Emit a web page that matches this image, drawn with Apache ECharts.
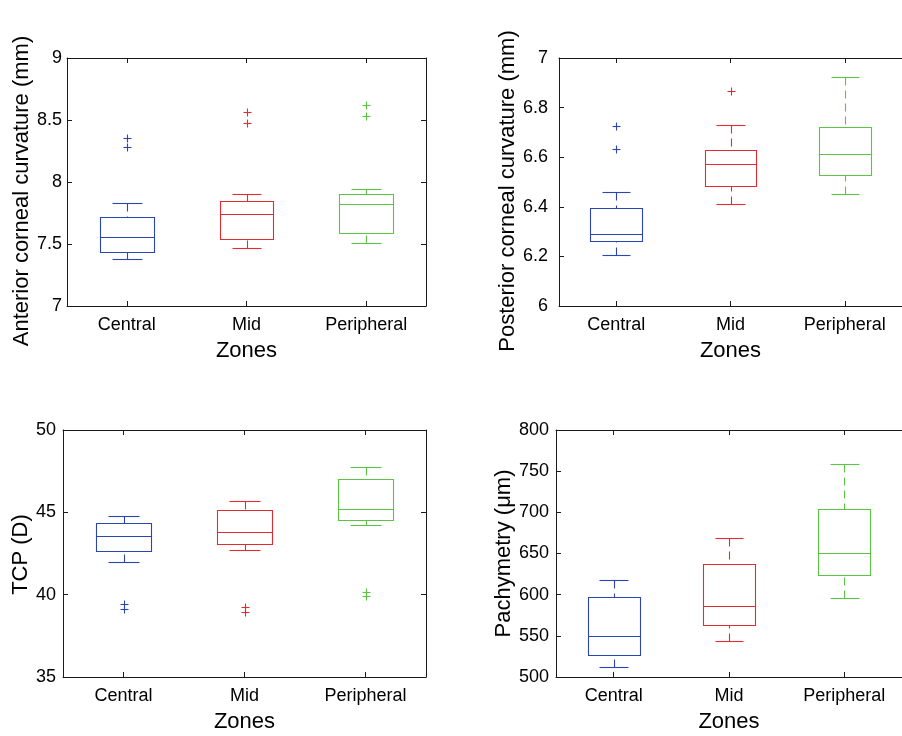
<!DOCTYPE html>
<html>
<head>
<meta charset="utf-8">
<script src="https://cdn.jsdelivr.net/npm/echarts@6/dist/echarts.min.js"></script>
<style>
html,body{margin:0;padding:0;background:#fff;}
#chart{width:902px;height:736px;}
</style>
</head>
<body>
<div id="chart"></div>
<script>
// ---- data ----
const zones = ['Central', 'Mid', 'Peripheral'];

// box stats: [lower whisker, Q1, median, Q3, upper whisker]
const anteriorBoxes = [
  [7.38, 7.435, 7.556, 7.715, 7.834],
  [7.468, 7.538, 7.745, 7.844, 7.901],
  [7.508, 7.586, 7.825, 7.903, 7.941]
];
const anteriorOutliers = [[0, 8.355], [0, 8.282], [1, 8.565], [1, 8.479], [2, 8.619], [2, 8.532]];

const posteriorBoxes = [
  [6.207, 6.264, 6.292, 6.395, 6.460],
  [6.410, 6.484, 6.574, 6.628, 6.731],
  [6.450, 6.530, 6.613, 6.721, 6.923]
];
const posteriorOutliers = [[0, 6.725], [0, 6.633], [1, 6.866]];

const tcpBoxes = [
  [41.96, 42.67, 43.58, 44.38, 44.75],
  [42.70, 43.05, 43.82, 45.13, 45.67],
  [44.22, 44.55, 45.19, 47.03, 47.76]
];
const tcpOutliers = [[0, 39.45], [0, 39.15], [1, 39.25], [1, 38.93], [2, 40.16], [2, 39.94]];

const pachyBoxes = [
  [511.6, 526.6, 549.2, 597.3, 618.3],
  [543.5, 563.0, 586.0, 637.8, 669.0],
  [596.1, 623.6, 651.1, 704.5, 758.3]
];
const pachyOutliers = [];

const anteriorTicks = {min: 7, max: 9, interval: 0.5};
const posteriorTicks = {min: 6, max: 7, interval: 0.2};
const tcpTicks = {min: 35, max: 50, interval: 5};
const pachyTicks = {min: 500, max: 800, interval: 50};

const yTitles = ['Anterior corneal curvature (mm)', 'Posterior corneal curvature (mm)', 'TCP (D)', 'Pachymetry (\u03bcm)'];
const xTitle = 'Zones';

// ---- styles ----
const zoneColors = ['#2b46b0', '#e42a33', '#5cc445'];
const axisColor = '#1a1a1a';
const FONT = 'Liberation Sans, Arial, Helvetica, sans-serif';

const panels = [
  {boxes: anteriorBoxes, outliers: anteriorOutliers, ticks: anteriorTicks,
   grid: {left: 67, top: 58, width: 359, height: 248}, yGap: 29, yMargin: 5, yShift: 18, rightAxis: true},
  {boxes: posteriorBoxes, outliers: posteriorOutliers, ticks: posteriorTicks,
   grid: {left: 559, top: 58, width: 350, height: 248}, yGap: 28, yMargin: 11, yShift: 18, rightAxis: false},
  {boxes: tcpBoxes, outliers: tcpOutliers, ticks: tcpTicks,
   grid: {left: 63, top: 430, width: 363, height: 247}, yGap: 27, yMargin: 7, yShift: 2, rightAxis: true},
  {boxes: pachyBoxes, outliers: pachyOutliers, ticks: pachyTicks,
   grid: {left: 556, top: 430, width: 352, height: 247}, yGap: 24, yMargin: 7, yShift: 0, rightAxis: false}
];

const px = v => Math.round(v) + 0.5;

function renderBox(params, api) {
  const cat = api.value(0);
  const color = zoneColors[cat];
  const band = api.size([1, 0])[0];
  const half = band * 0.225, capHalf = band * 0.125;
  const cx = api.coord([cat, api.value(3)])[0];
  const y = v => px(api.coord([cat, v])[1]);
  const yMin = y(api.value(1)), yQ1 = y(api.value(2)), yMed = y(api.value(3)),
        yQ3 = y(api.value(4)), yMax = y(api.value(5));
  const x0 = px(cx - half), x1 = px(cx + half), xc = px(cx),
        c0 = px(cx - capHalf), c1 = px(cx + capHalf);
  const solid = {stroke: color, lineWidth: 1.1, fill: null};
  const dashed = {stroke: color, lineWidth: 1.1, lineDash: [8, 5], fill: null};
  return {
    type: 'group',
    children: [
      {type: 'line', shape: {x1: xc, y1: yMax, x2: xc, y2: yQ3}, style: dashed},
      {type: 'line', shape: {x1: xc, y1: yMin, x2: xc, y2: yQ1}, style: dashed},
      {type: 'line', shape: {x1: c0, y1: yMax, x2: c1, y2: yMax}, style: solid},
      {type: 'line', shape: {x1: c0, y1: yMin, x2: c1, y2: yMin}, style: solid},
      {type: 'rect', shape: {x: x0, y: yQ3, width: x1 - x0, height: yQ1 - yQ3},
       style: {stroke: color, lineWidth: 1.1, fill: 'none'}},
      {type: 'line', shape: {x1: x0, y1: yMed, x2: x1, y2: yMed}, style: solid}
    ]
  };
}

function renderPlus(params, api) {
  const cat = api.value(0);
  const color = zoneColors[cat];
  const p = api.coord([cat, api.value(1)]);
  const x = px(p[0]), y = px(p[1]), h = 4;
  const st = {stroke: color, lineWidth: 1.1, fill: null};
  return {
    type: 'group',
    children: [
      {type: 'line', shape: {x1: x - h, y1: y, x2: x + h, y2: y}, style: st},
      {type: 'line', shape: {x1: x, y1: y - h, x2: x, y2: y + h}, style: st}
    ]
  };
}

const grid = [], xAxis = [], yAxis = [], series = [];
panels.forEach((p, i) => {
  grid.push(Object.assign({containLabel: false}, p.grid));
  const tick = {show: true, inside: true, length: 5, alignWithLabel: true, lineStyle: {color: axisColor}};
  xAxis.push({
    gridIndex: i, type: 'category', data: zones, position: 'bottom',
    axisLine: {show: true, onZero: false, lineStyle: {color: axisColor, width: 1}},
    axisTick: tick,
    axisLabel: {fontSize: 18, color: '#000', margin: 10, fontFamily: FONT},
    splitLine: {show: false},
    name: xTitle, nameLocation: 'middle', nameGap: 34,
    nameTextStyle: {fontSize: 22, color: '#000', fontFamily: FONT}
  });
  xAxis.push({
    gridIndex: i, type: 'category', data: zones, position: 'top',
    axisLine: {show: true, onZero: false, lineStyle: {color: axisColor, width: 1}},
    axisTick: tick, axisLabel: {show: false}, splitLine: {show: false}
  });
  const yTick = {show: true, inside: true, length: 5, lineStyle: {color: axisColor}};
  yAxis.push({
    gridIndex: i, type: 'value', position: 'left',
    min: p.ticks.min, max: p.ticks.max, interval: p.ticks.interval,
    axisLine: {show: true, onZero: false, lineStyle: {color: axisColor, width: 1}},
    axisTick: yTick,
    axisLabel: {fontSize: 18, color: '#000', margin: p.yMargin, fontFamily: FONT},
    splitLine: {show: false},
    name: yTitles[i], nameLocation: 'middle', nameGap: p.yGap,
    nameTextStyle: {fontSize: 22, color: '#000', fontFamily: FONT,
                    padding: [0, p.yShift, 0, 0]}
  });
  yAxis.push({
    gridIndex: i, type: 'value', position: 'right', show: p.rightAxis,
    min: p.ticks.min, max: p.ticks.max, interval: p.ticks.interval,
    axisLine: {show: true, onZero: false, lineStyle: {color: axisColor, width: 1}},
    axisTick: yTick, axisLabel: {show: false}, splitLine: {show: false}
  });
  series.push({
    type: 'custom', xAxisIndex: 2 * i, yAxisIndex: 2 * i,
    renderItem: renderBox,
    encode: {x: 0, y: [1, 2, 3, 4, 5]},
    data: p.boxes.map((b, k) => [k].concat(b)),
    silent: true, animation: false
  });
  if (p.outliers.length) {
    series.push({
      type: 'custom', xAxisIndex: 2 * i, yAxisIndex: 2 * i,
      renderItem: renderPlus,
      encode: {x: 0, y: 1},
      data: p.outliers,
      silent: true, animation: false
    });
  }
});

const chart = echarts.init(document.getElementById('chart'), null, {renderer: 'canvas'});
chart.setOption({
  animation: false,
  backgroundColor: '#fff',
  textStyle: {fontFamily: FONT},
  grid, xAxis, yAxis, series
});
</script>
</body>
</html>
